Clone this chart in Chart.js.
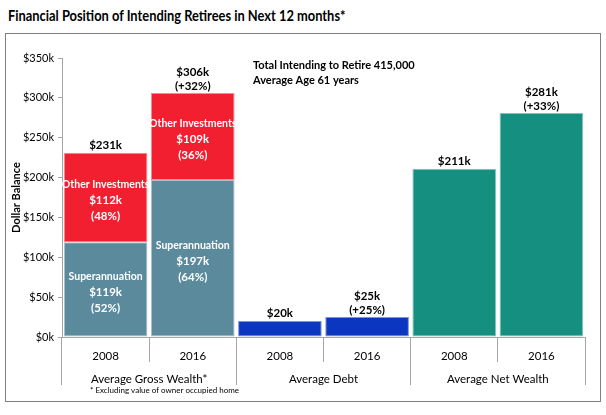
<!DOCTYPE html>
<html>
<head>
<meta charset="utf-8">
<script src="https://cdn.jsdelivr.net/npm/chart.js@4.4.1/dist/chart.umd.min.js"></script>
<style>
  body { margin: 0; background: #fff; font-family: Lato, sans-serif; }
  #title { position: absolute; left: 8px; top: 6px; font-size: 15.5px; font-weight: bold; color: #000; white-space: nowrap; transform: scaleX(0.83); transform-origin: left top; }
  #box { position: absolute; left: 5px; top: 33px; width: 594px; height: 367px; border: 1px solid #7f7f7f; }
  canvas { display: block; }
</style>
</head>
<body>
<div id="title">Financial Position of Intending Retirees in Next 12 months*</div>
<div id="box"><canvas id="chart" width="594" height="367"></canvas></div>
<script>
// data
const categories = ['2008', '2016', '2008', '2016', '2008', '2016'];
const groups = ['Average Gross Wealth*', 'Average Debt', 'Average Net Wealth'];
const superValues = [119, 197, null, null, null, null];
const otherValues = [112, 109, null, null, null, null];
const debtValues = [null, null, 20, 25, null, null];
const netValues = [null, null, null, null, 211, 281];
const yTicks = [0, 50, 100, 150, 200, 250, 300, 350];

const FONT = 'Lato, "Open Sans", sans-serif';

function totalAt(i) {
  return [superValues, otherValues, debtValues, netValues]
    .reduce((s, arr) => s + (arr[i] || 0), 0);
}

// labels on and above bars
const barLabels = {
  id: 'barLabels',
  afterDatasetsDraw(chart) {
    const ctx = chart.ctx;
    ctx.save();
    ctx.textAlign = 'center';
    ctx.textBaseline = 'middle';

    // inner labels for stacked segments
    const inner = [
      { ds: 0, name: 'Superannuation' },
      { ds: 1, name: 'Other Investments' }
    ];
    inner.forEach(({ ds, name }) => {
      chart.getDatasetMeta(ds).data.forEach((bar, i) => {
        const v = chart.data.datasets[ds].data[i];
        if (v == null) return;
        const pct = Math.round(v / totalAt(i) * 100);
        const cy = (bar.y + bar.base) / 2 + 3;
        ctx.fillStyle = '#fff';
        ctx.font = 'bold 10.5px ' + FONT;
        ctx.fillText(name, bar.x, cy - 16);
        ctx.font = 'bold 11.5px ' + FONT;
        ctx.fillText('$' + v + 'k', bar.x, cy);
        ctx.fillText('(' + pct + '%)', bar.x, cy + 16);
      });
    });

    // totals above bars
    const yScale = chart.scales.y;
    const xScale = chart.scales.x;
    categories.forEach((c, i) => {
      const t = totalAt(i);
      const x = xScale.getPixelForValue(i);
      const top = yScale.getPixelForValue(t);
      ctx.fillStyle = '#000';
      ctx.font = 'bold 11.5px ' + FONT;
      if (i % 2 === 1) {
        const prev = totalAt(i - 1);
        const chg = Math.round((t / prev - 1) * 100);
        ctx.fillText('$' + t + 'k', x, top - 21);
        ctx.fillText('(+' + chg + '%)', x, top - 7);
      } else {
        ctx.fillText('$' + t + 'k', x, top - 8);
      }
    });

    // note text
    ctx.textAlign = 'left';
    ctx.font = 'bold 11px ' + FONT;
    ctx.fillText('Total Intending to Retire 415,000', 247, 31);
    ctx.fillText('Average Age 61 years', 247, 46);

    // footnote
    ctx.font = '8px ' + FONT;
    ctx.fillText('* Excluding value of owner occupied home', 84, 356);
    ctx.restore();
  }
};

const ctx = document.getElementById('chart').getContext('2d');
new Chart(ctx, {
  type: 'bar',
  data: {
    labels: categories,
    datasets: [
      { label: 'Superannuation', data: superValues, backgroundColor: '#5a8a9c', borderColor: '#a9c3cd', borderWidth: 1, borderSkipped: false },
      { label: 'Other Investments', data: otherValues, backgroundColor: '#f21f31', borderColor: '#f58a92', borderWidth: 1, borderSkipped: false },
      { label: 'Average Debt', data: debtValues, backgroundColor: '#0b37c0', borderColor: '#7d93dc', borderWidth: 1, borderSkipped: false },
      { label: 'Average Net Wealth', data: netValues, backgroundColor: '#158f80', borderColor: '#84c4bc', borderWidth: 1, borderSkipped: false }
    ]
  },
  options: {
    responsive: false,
    animation: false,
    categoryPercentage: 0.96,
    barPercentage: 1,
    layout: { padding: { top: 24, right: 15, bottom: 16, left: 4 } },
    plugins: {
      legend: { display: false },
      tooltip: { enabled: false }
    },
    scales: {
      x: {
        stacked: true,
        offset: true,
        weight: 0,
        grid: { offset: true, drawOnChartArea: false, tickLength: 25, color: '#a6a6a6' },
        border: { color: '#a6a6a6' },
        ticks: { color: '#000', font: { family: FONT, size: 11.5 }, padding: -13 },
        afterFit: s => { s.height = 25; }
      },
      x2: {
        type: 'category',
        labels: groups,
        position: 'bottom',
        offset: true,
        weight: 1,
        grid: { offset: true, drawOnChartArea: false, tickLength: 23, color: '#a6a6a6' },
        border: { display: false },
        ticks: { color: '#000', font: { family: FONT, size: 11.5 }, padding: -13 },
        afterFit: s => { s.height = 23; }
      },
      y: {
        stacked: true,
        min: 0,
        max: 350,
        afterBuildTicks: s => { s.ticks = yTicks.map(v => ({ value: v })); },
        grid: { drawOnChartArea: false, tickLength: 4, color: '#a6a6a6' },
        border: { color: '#a6a6a6' },
        ticks: { color: '#000', font: { family: FONT, size: 11 }, padding: 4, callback: v => '$' + v + 'k' },
        title: { display: true, text: 'Dollar Balance', color: '#000', font: { family: FONT, size: 11, weight: 'bold' }, padding: 0 },
        afterFit: s => { s.width = 52; }
      }
    }
  },
  plugins: [barLabels]
});
</script>
</body>
</html>
